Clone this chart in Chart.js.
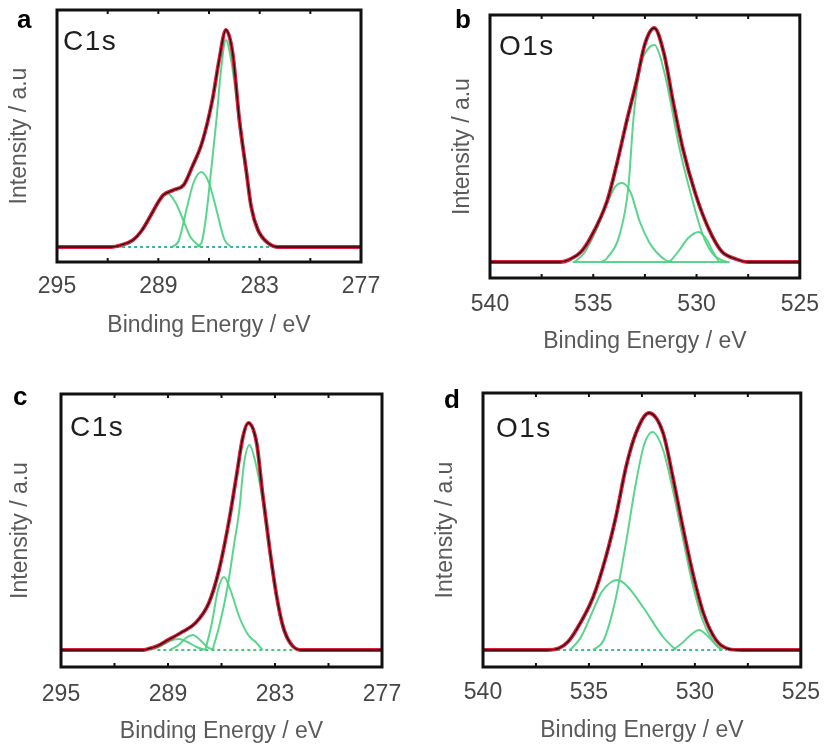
<!DOCTYPE html>
<html><head><meta charset="utf-8">
<script src="https://cdn.jsdelivr.net/npm/chart.js@4.4.1/dist/chart.umd.min.js"></script>
<style>
html,body{margin:0;padding:0;background:#fff;}
body{width:832px;height:748px;position:relative;overflow:hidden;font-family:"Liberation Sans",Arial,sans-serif;}
canvas{position:absolute;}
.lab{position:absolute;font-weight:bold;font-size:26px;line-height:1;color:#000;}
.core{position:absolute;font-size:28px;line-height:1;color:#1e1e1e;letter-spacing:1.5px;}
</style></head><body>
<canvas id="ca" width="416" height="374" style="left:0;top:0"></canvas>
<canvas id="cb" width="416" height="374" style="left:416px;top:0"></canvas>
<canvas id="cc" width="416" height="374" style="left:0;top:374px"></canvas>
<canvas id="cd" width="416" height="374" style="left:416px;top:374px"></canvas>
<div class="lab" style="left:17px;top:6px">a</div>
<div class="lab" style="left:455px;top:6px">b</div>
<div class="lab" style="left:13px;top:383px">c</div>
<div class="lab" style="left:444px;top:386px">d</div>
<div class="core" style="left:63px;top:27px">C1s</div>
<div class="core" style="left:499px;top:32px">O1s</div>
<div class="core" style="left:70px;top:413px">C1s</div>
<div class="core" style="left:496px;top:414px">O1s</div>
<script>
// ---------- data (binding energy in eV, intensity in arbitrary units) ----------
const xTitle = "Binding Energy / eV";
const yTitle = "Intensity / a.u";

// panel a : C1s
const aEnvE = [295, 291.8, 291.2, 290.5, 290.0, 289.5, 289.0, 288.7, 288.1, 287.5, 287.0, 286.4, 285.8, 285.4, 285.0, 284.6, 284.2, 283.8, 283.5, 283.1, 282.5, 281.9, 277];
const aEnvI = [0, 0, 2, 7, 16, 30, 45, 52, 57, 62, 80, 105, 147, 187, 217, 194, 127, 77, 40, 17, 4, 0, 0];
const aC1E = [286.8, 286.45, 286.2, 285.87, 285.56, 285.3, 285.0, 284.7, 284.4, 284.2, 283.8, 283.5, 283.1, 282.5, 282.0];
const aC1I = [0, 4, 27, 77, 127, 175, 207, 188, 152, 122, 73, 38, 15, 3, 0];
const aC2E = [288.2, 287.8, 287.3, 286.9, 286.45, 286.0, 285.6, 285.1, 284.7];
const aC2I = [0, 6, 40, 65, 75, 64, 40, 8, 0];
const aC3E = [291.3, 290.5, 289.5, 288.9, 288.5, 288.0, 287.6, 287.1, 286.5];
const aC3I = [0, 6, 29, 49, 54, 45, 30, 10, 0];
const aBaseE = [291.5, 282.0];
const aBaseI = [0, 0];

// panel b : O1s
const bEnvE = [540, 536.6, 536.1, 535.6, 535.14, 534.33, 533.86, 533.38, 532.9, 532.5, 532.05, 531.57, 531.14, 530.67, 530.05, 529.43, 528.8, 528.1, 527.5, 525];
const bEnvI = [0, 0, 3, 10, 24, 61, 98, 141, 181, 218, 234, 208, 161, 114, 68, 34, 11, 3, 0, 0];
const bC1E = [534.6, 534.33, 533.7, 533.3, 533.06, 532.75, 532.27, 532.03, 531.8, 531.4, 530.84, 530.29, 529.73, 529.25, 528.8, 528.5];
const bC1I = [0, 4, 29, 75, 142, 192, 215, 217, 208, 175, 115, 69, 29, 9, 2, 0];
const bC2E = [535.9, 535.4, 534.9, 534.33, 533.95, 533.62, 533.2, 532.76, 532.3, 531.95, 531.5, 531.2];
const bC2I = [0, 10, 30, 58, 75, 79, 70, 41, 20, 10, 2, 0];
const bC3E = [531.3, 530.9, 530.4, 529.9, 529.5, 529.2, 528.9];
const bC3I = [0, 10, 24, 30, 22, 10, 0];
const bBaseE = [536.0, 528.4];
const bBaseI = [0, 0];

// panel c : C1s
const cEnvE = [295, 290.4, 290.14, 289.6, 289.0, 288.3, 287.46, 286.71, 286.14, 285.57, 285.17, 284.8, 284.5, 284.03, 283.7, 283.29, 282.9, 282.54, 282.14, 281.57, 277];
const cEnvI = [0, 0, 1, 4, 10, 17, 27, 47, 80, 130, 173, 213, 227, 207, 157, 100, 53, 23, 7, 0, 0];
const cC1E = [286.5, 286.14, 285.8, 285.57, 285.3, 285.0, 284.75, 284.43, 284.1, 283.7, 283.29, 282.9, 282.54, 282.14, 281.7];
const cC1I = [0, 23, 50, 73, 105, 140, 185, 205, 188, 150, 95, 50, 20, 5, 0];
const cC2E = [286.9, 286.54, 286.2, 285.86, 285.5, 285.0, 284.5, 284.03, 283.7];
const cC2I = [0, 27, 60, 73, 60, 33, 15, 7, 0];
const cC3E = [288.9, 288.4, 288.0, 287.6, 287.2, 286.8, 286.4];
const cC3I = [0, 5, 12, 15, 10, 3, 0];
const cC4E = [290.0, 289.4, 288.9, 288.4, 287.9, 287.4, 286.9];
const cC4I = [0, 4, 9, 11, 8, 3, 0];
const cBaseE = [289.6, 282.0];
const cBaseI = [0, 0];

// panel d : O1s
const dEnvE = [540, 537.0, 536.4, 536.0, 535.6, 534.8, 534.2, 533.73, 533.25, 532.78, 532.17, 531.5, 531.04, 530.57, 530.1, 529.6, 529.0, 528.4, 527.8, 525];
const dEnvI = [0, 0, 2, 8, 20, 53, 93, 133, 183, 217, 237, 217, 173, 123, 77, 37, 10, 1, 0, 0];
const dC1E = [534.8, 534.3, 533.75, 533.27, 532.8, 532.4, 532.0, 531.5, 531.04, 530.57, 530.1, 529.6, 529.0, 528.7];
const dC1I = [0, 10, 50, 105, 165, 205, 218, 200, 160, 112, 65, 28, 5, 0];
const dC2E = [535.9, 535.4, 534.9, 534.4, 533.95, 533.65, 533.2, 532.45, 531.5, 530.9];
const dC2I = [0, 12, 35, 58, 68, 70, 64, 43, 13, 0];
const dC3E = [531.04, 530.6, 530.2, 529.8, 529.4, 529.0, 528.7];
const dC3I = [0, 7, 15, 20, 14, 5, 0];
const dBaseE = [536.5, 528.5];
const dBaseI = [0, 0];

// axis tick labels (energy ranges)
const cTicks = [295, 289, 283, 277];
const oTicks = [540, 535, 530, 525];

// ---------- rendering ----------
function pts(E, I) { return E.map((e, i) => ({ x: e, y: I[i] })); }

const RED = 'rgb(222,32,62)';
const BLK = 'rgba(25,10,10,0.95)';
const GRN = 'rgba(72,210,128,0.9)';

const framePlugin = {
  id: 'frame',
  afterDatasetsDraw(chart) {
    const { ctx, chartArea: { left, top, right, bottom }, scales: { x } } = chart;
    ctx.save();
    ctx.strokeStyle = '#111';
    ctx.lineWidth = 3;
    ctx.strokeRect(left, top, right - left, bottom - top);
    const vals = x.ticks.map(t => t.value).sort((p, q) => p - q);
    const marks = [];
    for (let i = 0; i < vals.length; i++) {
      marks.push(vals[i]);
      if (i + 1 < vals.length) marks.push((vals[i] + vals[i + 1]) / 2);
    }
    ctx.lineWidth = 2;
    marks.forEach(v => {
      const px = x.getPixelForValue(v);
      if (px <= left + 3 || px >= right - 3) return;
      ctx.beginPath();
      ctx.moveTo(px, top); ctx.lineTo(px, top + 4);
      ctx.moveTo(px, bottom); ctx.lineTo(px, bottom - 4);
      ctx.stroke();
    });
    ctx.restore();
  }
};

function makePanel(id, cfg) {
  const datasets = [
    { data: pts(cfg.env[0], cfg.env[1]), borderColor: BLK, borderWidth: 1.3 },
    { data: pts(cfg.env[0], cfg.env[1]), borderColor: RED, borderWidth: 3.8 }
  ];
  cfg.comps.forEach(c => datasets.push({ data: pts(c[0], c[1]), borderColor: GRN, borderWidth: 2 }));
  datasets.push({ data: pts(cfg.base[0], cfg.base[1]), borderColor: cfg.baseColor, borderWidth: 2, borderDash: cfg.baseDash });
  datasets.forEach(d => { d.pointRadius = 0; d.fill = false; d.cubicInterpolationMode = 'monotone'; });

  const tickFont = { family: '"Liberation Sans", Arial, sans-serif', size: 23 };
  new Chart(document.getElementById(id), {
    type: 'line',
    data: { datasets },
    plugins: [framePlugin],
    options: {
      responsive: false, animation: false, devicePixelRatio: 1,
      layout: { padding: { left: 0, top: cfg.top, right: cfg.right, bottom: 0 } },
      plugins: { legend: { display: false }, tooltip: { enabled: false } },
      scales: {
        x: {
          type: 'linear', reverse: true, min: cfg.xTicks[cfg.xTicks.length - 1], max: cfg.xTicks[0],
          afterBuildTicks: s => { s.ticks = cfg.xTicks.map(v => ({ value: v })); },
          afterFit: s => { s.height = cfg.xh; },
          grid: { display: false, drawTicks: false }, border: { display: false },
          ticks: { padding: cfg.tickPad, color: '#474747', font: tickFont, maxRotation: 0, autoSkip: false },
          title: { display: true, text: xTitle, color: '#5a5a5a', font: tickFont, padding: { top: 0, bottom: cfg.xTitlePad } }
        },
        y: {
          min: cfg.ymin, max: cfg.ymax,
          afterFit: s => { s.width = cfg.yw; },
          grid: { display: false, drawTicks: false }, border: { display: false },
          ticks: { display: false },
          title: { display: true, text: yTitle, color: '#5a5a5a', font: tickFont, padding: { top: cfg.yTitlePad, bottom: 0 } }
        }
      }
    }
  });
}

makePanel('ca', {
  env: [aEnvE, aEnvI], comps: [[aC1E, aC1I], [aC2E, aC2I], [aC3E, aC3I]], base: [aBaseE, aBaseI],
  baseColor: 'rgba(40,170,150,0.9)', baseDash: [3, 3], xTicks: cTicks,
  top: 10, right: 55, yw: 57, xh: 112, tickPad: 11, xTitlePad: 35, yTitlePad: 6, ymin: -15, ymax: 237
});
makePanel('cb', {
  env: [bEnvE, bEnvI], comps: [[bC1E, bC1I], [bC2E, bC2I], [bC3E, bC3I]], base: [bBaseE, bBaseI],
  baseColor: GRN, baseDash: [], xTicks: oTicks,
  top: 15, right: 24, yw: 74, xh: 96, tickPad: 13, xTitlePad: 19, yTitlePad: 33, ymin: -16, ymax: 247
});
makePanel('cc', {
  env: [cEnvE, cEnvI], comps: [[cC1E, cC1I], [cC2E, cC2I], [cC3E, cC3I], [cC4E, cC4I]], base: [cBaseE, cBaseI],
  baseColor: 'rgba(60,190,110,0.9)', baseDash: [3, 3], xTicks: cTicks,
  top: 20, right: 34, yw: 61, xh: 81, tickPad: 14, xTitlePad: 3, yTitlePad: 7, ymin: -17, ymax: 256
});
makePanel('cd', {
  env: [dEnvE, dEnvI], comps: [[dC1E, dC1I], [dC2E, dC2I], [dC3E, dC3I]], base: [dBaseE, dBaseI],
  baseColor: 'rgba(50,180,140,0.9)', baseDash: [3, 3], xTicks: oTicks,
  top: 19, right: 25, yw: 67, xh: 81, tickPad: 12, xTitlePad: 4, yTitlePad: 16, ymin: -17, ymax: 257
});
</script>
</body></html>
